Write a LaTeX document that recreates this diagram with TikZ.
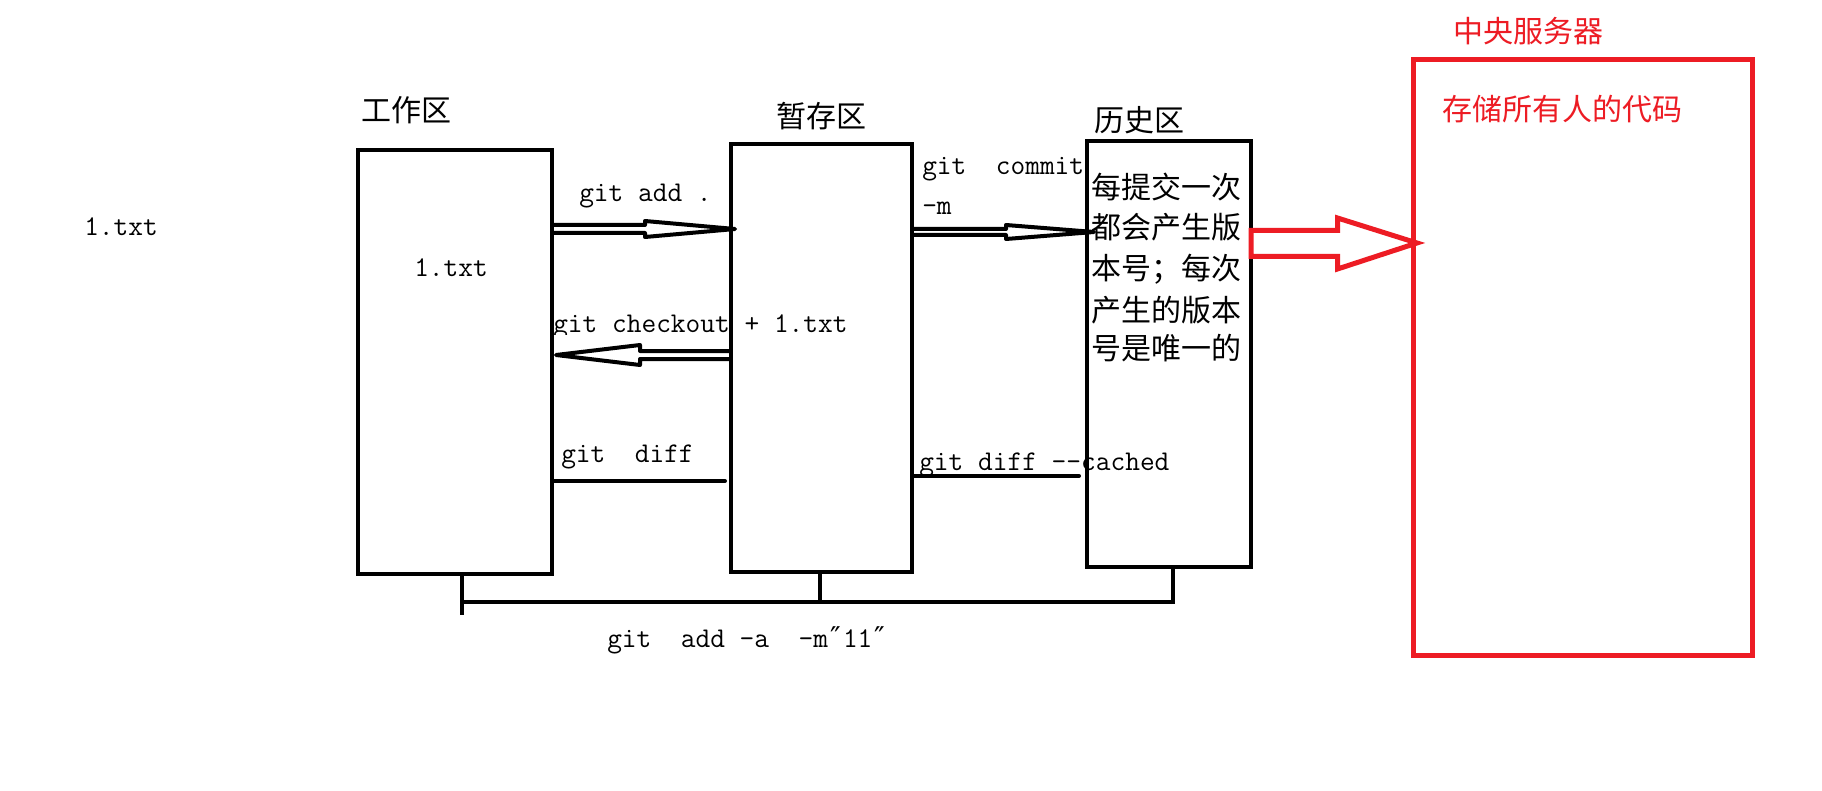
\documentclass[tikz,border=0pt]{standalone}
\usepackage{fontspec}
\newfontfamily\cjk{Noto Sans CJK SC}
\newfontfamily\lat{Latin Modern Mono}
\newfontfamily\dv{DejaVu Sans}
\definecolor{pred}{RGB}{237,28,36}
\tikzset{
  box/.style={draw=black, line width=3pt, rectangle, inner sep=0pt},
  redbox/.style={draw=pred, line width=3.75pt, rectangle, inner sep=0pt},
  zh/.style={font=\cjk\fontsize{22.5pt}{30pt}\selectfont, inner sep=0pt, anchor=base west},
  en/.style={font=\lat\fontsize{21.43pt}{25pt}\selectfont, inner sep=0pt, anchor=base west},
  conn/.style={line width=3pt, line cap=round},
  hollow/.style={line width=3pt, line join=round},
  redarrow/.style={draw=pred, line width=3.75pt, line join=miter},
  bracket/.style={line width=3pt},
}
\newcommand\dq{\makebox[11.25pt][c]{\dv ″}}
\begin{document}
\begin{tikzpicture}[x=0.75pt,y=-0.75pt]
\fill[white] (0,0) rectangle (1822,791);
\useasboundingbox (0,0) rectangle (1822,791);

% boxes
\node[box, minimum width={194*0.75pt}, minimum height={424*0.75pt}] (wb) at (455,362) {};
\node[box, minimum width={181*0.75pt}, minimum height={428*0.75pt}] (sb) at (821.5,358) {};
\node[box, minimum width={164*0.75pt}, minimum height={426*0.75pt}] (hb) at (1169,354) {};
\node[redbox, minimum width={339*0.75pt}, minimum height={596*0.75pt}] (rb) at (1583,357.5) {};

% titles
\node[zh] (t1) at (361,122) {工作区};
\node[zh] (t2) at (776,128) {暂存区};
\node[zh] (t3) at (1094,132) {历史区};
\node[zh, text=pred] (t4) at (1453,43) {中央服务器};
\node[zh, text=pred] (t5) at (1442,121) {存储所有人的代码};

% history box text
\node[zh] (h1) at (1091,199) {每提交一次};
\node[zh] (h2) at (1091,239) {都会产生版};
\node[zh] (h3) at (1091,280) {本号；每次};
\node[zh] (h4) at (1091,321) {产生的版本};
\node[zh] (h5) at (1091,359) {号是唯一的};

% latin texts
\node[en] (f0) at (84,236) {1.txt};
\node[en] (f1) at (414,277) {1.txt};
\node[en] (l1) at (579,202) {git add .};
\begin{scope}
\clip (540,290) rectangle (880,334);
\node[en] (l2) at (553,333) {git checkout + 1.txt};
\end{scope}
\node[en] (l3) at (922,175) {git~~commit};
\node[en] (l4) at (922,215) {-m};
\node[en] (l5) at (561,462) {git~~diff};
\node[en] (l6) at (919,470) {git diff -\kern0pt-cached};
\node[en] (l7) at (607,647) {git~~add -a~~-m\dq 11\dq};

% git add arrow
\coordinate (addtip) at (735,229);
\draw[hollow] (552,225) -- (645,225) -- (645,221) -- (addtip) -- (645,237) -- (645,233) -- (552,233);

% checkout arrow
\coordinate (cotip) at (556,355);
\draw[hollow] (731,351) -- (640,351) -- (640,345) -- (cotip) -- (640,365) -- (640,359) -- (731,359);

% commit arrow
\coordinate (cmtip) at (1094,232);
\draw[hollow] (912,229) -- (1006,229) -- (1006,225) -- (cmtip) -- (1006,239) -- (1006,235) -- (912,235);

% red arrow
\coordinate (rtip) at (1417,243);
\draw[redarrow] (1251,230.5) -- (1337.5,230.5) -- (1337.5,218) -- (rtip) -- (1337.5,269) -- (1337.5,256.5) -- (1251,256.5) -- cycle;

% diff lines
\coordinate (d1) at (725,481);
\draw[conn] (wb.east |- d1) -- (d1);
\coordinate (d2) at (1079,476);
\draw[conn] (sb.east |- d2) -- (d2);

% bottom bracket
\coordinate (bl) at (462,615);
\coordinate (bm) at (820,602);
\coordinate (br) at (1173,602);
\draw[bracket] (bl |- wb.south) -- (bl);
\draw[bracket] (bl |- br) -- ([xshift=1.5pt]br);
\draw[bracket] (bm) -- (bm |- sb.south);
\draw[bracket] ([yshift=-1.5pt]br) -- (br |- hb.south);
\end{tikzpicture}
\end{document}
